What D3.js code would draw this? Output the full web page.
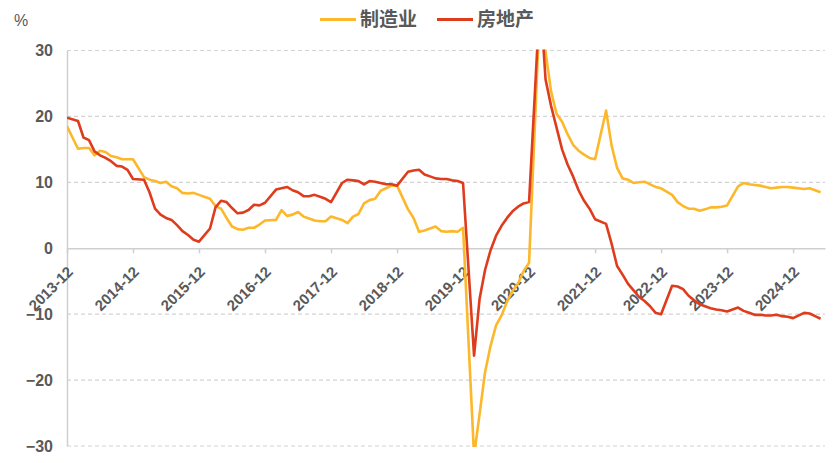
<!DOCTYPE html>
<html>
<head>
<meta charset="utf-8">
<script src="https://cdn.jsdelivr.net/npm/d3@7"></script>
<style>
  body { margin: 0; background: #fff; }
  svg { display: block; }
</style>
</head>
<body>
<script>
const width = 839;
const height = 463;

// monthly cumulative yoy, Jan is not published (Jan-Feb combined)
const months = [
  '2013-12',
  '2014-02','2014-03','2014-04','2014-05','2014-06','2014-07','2014-08','2014-09','2014-10','2014-11','2014-12',
  '2015-02','2015-03','2015-04','2015-05','2015-06','2015-07','2015-08','2015-09','2015-10','2015-11','2015-12',
  '2016-02','2016-03','2016-04','2016-05','2016-06','2016-07','2016-08','2016-09','2016-10','2016-11','2016-12',
  '2017-02','2017-03','2017-04','2017-05','2017-06','2017-07','2017-08','2017-09','2017-10','2017-11','2017-12',
  '2018-02','2018-03','2018-04','2018-05','2018-06','2018-07','2018-08','2018-09','2018-10','2018-11','2018-12',
  '2019-02','2019-03','2019-04','2019-05','2019-06','2019-07','2019-08','2019-09','2019-10','2019-11','2019-12',
  '2020-02','2020-03','2020-04','2020-05','2020-06','2020-07','2020-08','2020-09','2020-10','2020-11','2020-12',
  '2021-02','2021-03','2021-04','2021-05','2021-06','2021-07','2021-08','2021-09','2021-10','2021-11','2021-12',
  '2022-02','2022-03','2022-04','2022-05','2022-06','2022-07','2022-08','2022-09','2022-10','2022-11','2022-12',
  '2023-02','2023-03','2023-04','2023-05','2023-06','2023-07','2023-08','2023-09','2023-10','2023-11','2023-12',
  '2024-02','2024-03','2024-04','2024-05','2024-06','2024-07','2024-08','2024-09','2024-10','2024-11','2024-12',
  '2025-02','2025-03','2025-04','2025-05'
];

const manufacturing = [
  18.5,
  15.1, 15.2, 15.2, 14.1, 14.8, 14.6, 14.0, 13.8, 13.5, 13.5, 13.5,
  10.8, 10.4, 10.2, 9.9, 10.1, 9.4, 9.1, 8.4, 8.3, 8.4, 8.1,
  7.5, 6.4, 6.0, 4.6, 3.3, 2.9, 2.8, 3.1, 3.1, 3.6, 4.2,
  4.3, 5.8, 4.9, 5.1, 5.5, 4.8, 4.5, 4.2, 4.1, 4.1, 4.8,
  4.3, 3.8, 4.8, 5.2, 6.8, 7.3, 7.5, 8.7, 9.1, 9.5, 9.5,
  5.9, 4.6, 2.5, 2.7, 3.0, 3.3, 2.6, 2.5, 2.6, 2.5, 3.1,
  -31.5, -25.2, -18.8, -14.8, -11.7, -10.2, -8.1, -6.5, -5.3, -3.5, -2.2,
  37.3, 29.8, 23.8, 20.4, 19.2, 17.3, 15.7, 14.8, 14.2, 13.7, 13.5,
  20.9, 15.6, 12.2, 10.6, 10.4, 9.9, 10.0, 10.1, 9.7, 9.3, 9.1,
  8.1, 7.0, 6.4, 6.0, 6.0, 5.7, 5.9, 6.2, 6.2, 6.3, 6.5,
  9.4, 9.9, 9.7, 9.6, 9.5, 9.3, 9.1, 9.2, 9.3, 9.3, 9.2,
  9.0, 9.1, 8.8, 8.5
];

const realEstate = [
  19.8,
  19.3, 16.8, 16.4, 14.7, 14.1, 13.7, 13.2, 12.5, 12.4, 11.9, 10.5,
  10.4, 8.5, 6.0, 5.1, 4.6, 4.3, 3.5, 2.6, 2.0, 1.3, 1.0,
  3.0, 6.2, 7.2, 7.0, 6.1, 5.3, 5.4, 5.8, 6.6, 6.5, 6.9,
  8.9, 9.1, 9.3, 8.8, 8.5, 7.9, 7.9, 8.1, 7.8, 7.5, 7.0,
  9.9, 10.4, 10.3, 10.2, 9.7, 10.2, 10.1, 9.9, 9.7, 9.7, 9.5,
  11.6, 11.8, 11.9, 11.2, 10.9, 10.6, 10.5, 10.5, 10.3, 10.2, 9.9,
  -16.3, -7.7, -3.3, -0.3, 1.9, 3.4, 4.6, 5.6, 6.3, 6.8, 7.0,
  38.3, 25.6, 21.6, 18.3, 15.0, 12.7, 10.9, 8.8, 7.2, 6.0, 4.4,
  3.7, 0.7, -2.7, -4.0, -5.4, -6.4, -7.4, -8.0, -8.8, -9.8, -10.0,
  -5.7, -5.8, -6.2, -7.2, -7.9, -8.5, -8.8, -9.1, -9.3, -9.4, -9.6,
  -9.0, -9.5, -9.8, -10.1, -10.1, -10.2, -10.2, -10.1, -10.3, -10.4, -10.6,
  -9.8, -9.9, -10.3, -10.7
];

const seriesNames = ['制造业', '房地产'];
const seriesColors = ['#FCB82A', '#DE3C1C'];
const xTickLabels = ['2013-12','2014-12','2015-12','2016-12','2017-12','2018-12',
  '2019-12','2020-12','2021-12','2022-12','2023-12','2024-12'];
const yTicks = [-30, -20, -10, 0, 10, 20, 30];

const margin = { top: 50.5, right: 14, bottom: 17, left: 67 };
const textColor = '#595959';
const latin = '"Liberation Sans", Arial, sans-serif';
const cjk = '"Noto Sans CJK SC", "Noto Sans", sans-serif';

// month index counted from 2013-12
const monthIndex = s => {
  const [y, m] = s.split('-').map(Number);
  return (y - 2013) * 12 + (m - 12);
};

const x = d3.scaleLinear()
  .domain([0, 137.8])
  .range([margin.left, width - margin.right]);

const y = d3.scaleLinear()
  .domain([-30, 30])
  .range([height - margin.bottom, margin.top]);

const svg = d3.select('body').append('svg')
  .attr('width', width)
  .attr('height', height);

svg.append('defs').append('clipPath')
  .attr('id', 'plot')
  .append('rect')
    .attr('x', x.range()[0])
    .attr('y', y(30) - 1)
    .attr('width', x.range()[1] - x.range()[0])
    .attr('height', y(-30) - y(30) + 2);

// grid
svg.append('g')
  .selectAll('line')
  .data(yTicks.filter(d => d !== 0))
  .join('line')
    .attr('x1', x.range()[0])
    .attr('x2', x.range()[1])
    .attr('y1', d => y(d))
    .attr('y2', d => y(d))
    .attr('stroke', '#d3d3d3')
    .attr('stroke-width', 1.2)
    .attr('stroke-dasharray', '4,3');

// y axis
const yAxis = svg.append('g')
  .attr('transform', `translate(${margin.left},0)`)
  .call(d3.axisLeft(y).tickValues(yTicks).tickSize(0).tickPadding(14));
yAxis.select('.domain').attr('stroke', '#cfcfcf').attr('stroke-width', 1.5);
yAxis.selectAll('text')
  .attr('fill', textColor)
  .style('font-family', latin)
  .style('font-size', '16px')
  .style('font-weight', 'bold');

svg.append('text')
  .attr('x', 14)
  .attr('y', 26)
  .attr('fill', textColor)
  .style('font-family', latin)
  .style('font-size', '16px')
  .text('%');

// x axis on zero line
const xAxis = svg.append('g')
  .attr('transform', `translate(0,${y(0)})`)
  .call(d3.axisBottom(x)
    .tickValues(xTickLabels.map(monthIndex))
    .tickFormat((d, i) => xTickLabels[i])
    .tickSize(5)
    .tickSizeOuter(0));
xAxis.select('.domain').attr('stroke', '#cfcfcf').attr('stroke-width', 1.5);
xAxis.selectAll('.tick line').attr('stroke', '#cfcfcf').attr('stroke-width', 1.5);
xAxis.selectAll('.tick text')
  .attr('fill', textColor)
  .attr('text-anchor', 'end')
  .attr('dy', null)
  .attr('y', 0)
  .attr('transform', 'translate(6.5,24.5) rotate(-45)')
  .style('font-family', latin)
  .style('font-size', '15px')
  .style('font-weight', 'bold');

// lines
const series = [manufacturing, realEstate];
const line = d3.line()
  .x((d, i) => x(monthIndex(months[i])))
  .y(d => y(d));

svg.append('g')
  .attr('clip-path', 'url(#plot)')
  .selectAll('path')
  .data(series)
  .join('path')
    .attr('d', d => line(d))
    .attr('fill', 'none')
    .attr('stroke', (d, i) => seriesColors[i])
    .attr('stroke-width', 2.6)
    .attr('stroke-linejoin', 'round');

// legend
const legendX = [320, 437];
const legend = svg.append('g')
  .selectAll('g')
  .data(seriesNames)
  .join('g')
    .attr('transform', (d, i) => `translate(${legendX[i]},19.5)`);

legend.append('line')
  .attr('x1', 0)
  .attr('x2', 36)
  .attr('stroke', (d, i) => seriesColors[i])
  .attr('stroke-width', 3);

legend.append('text')
  .attr('x', 40)
  .attr('dy', '0.36em')
  .attr('fill', textColor)
  .style('font-family', cjk)
  .style('font-size', '19px')
  .style('font-weight', 'bold')
  .text(d => d);
</script>
</body>
</html>
